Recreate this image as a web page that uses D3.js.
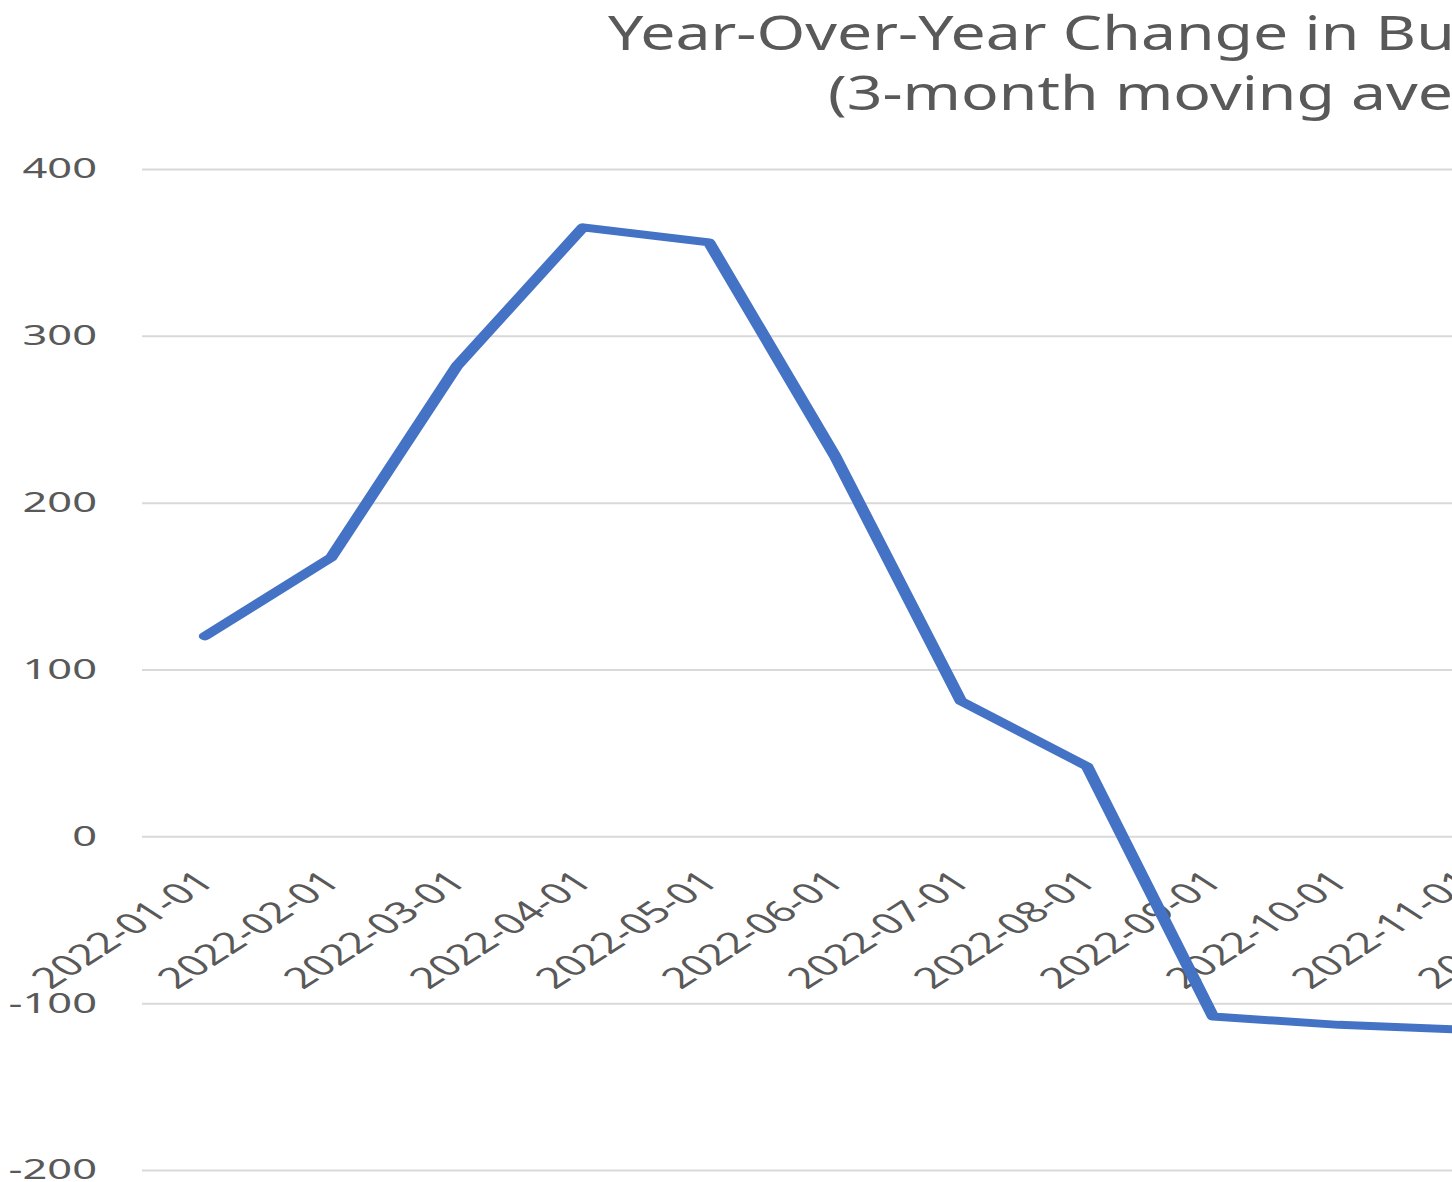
<!DOCTYPE html>
<html>
<head>
<meta charset="utf-8">
<script src="https://cdn.jsdelivr.net/npm/d3@7"></script>
<style>
  html, body { margin: 0; padding: 0; background: #fff; overflow: hidden; }
  text { font-family: "Noto Sans", sans-serif; fill: #595959; }
</style>
</head>
<body>
<div class="chart-container"></div>
<script>
// data
const months = [
  "2022-01-01", "2022-02-01", "2022-03-01", "2022-04-01",
  "2022-05-01", "2022-06-01", "2022-07-01", "2022-08-01",
  "2022-09-01", "2022-10-01", "2022-11-01", "2022-12-01",
];
const values = [120, 167, 282, 365, 356, 228, 81, 42, -108, -113, -116];
const yTicks = [-200, -100, 0, 100, 200, 300, 400];
const titleLines = ["Year-Over-Year Change in Building Permits", "(3-month moving average)"];

const width = 1452;
const height = 1182;
// the picture is stretched sideways, so draw in a squeezed space
const sx = 1.55;
const plotLeft = 142;
const step = 126;

const svg = d3
  .select(".chart-container")
  .append("svg")
  .attr("width", width)
  .attr("height", height);

const g = svg.append("g").attr("transform", `scale(${sx},1)`);

const x = d3
  .scalePoint()
  .domain(months)
  .range([plotLeft / sx, (plotLeft + months.length * step) / sx])
  .padding(0.5);

const y = d3.scaleLinear().domain([-200, 400]).range([1170, 169]);

// y axis + gridlines
const yAxis = g
  .append("g")
  .attr("transform", `translate(${plotLeft / sx},0)`)
  .call(
    d3.axisLeft(y)
      .tickValues(yTicks)
      .tickSize(-(months.length * step) / sx)
      .tickPadding(45 / sx)
      .tickFormat((d) => String(d))
  );
yAxis.select(".domain").remove();
yAxis.selectAll(".tick line").attr("stroke", "#d9d9d9").attr("stroke-width", 2);
yAxis
  .selectAll(".tick text")
  .attr("font-size", 28)
  .attr("fill", "#595959")
  .style("font-family", '"Noto Sans", sans-serif');

// x axis labels, sitting under the zero line
const xAxis = g
  .append("g")
  .attr("transform", `translate(0,${y(0)})`)
  .call(d3.axisBottom(x).tickSize(0));
xAxis.select(".domain").remove();
xAxis
  .selectAll(".tick text")
  .attr("font-size", 29)
  .attr("fill", "#595959")
  .style("font-family", '"Noto Sans", sans-serif')
  .attr("text-anchor", "end")
  .attr("x", 0)
  .attr("y", 0)
  .attr("dy", 0)
  .attr("transform", "translate(7,47) rotate(-45)");

// series line
const series = values.map((v, i) => ({ month: months[i], value: v }));
const line = d3
  .line()
  .x((d) => x(d.month))
  .y((d) => y(d.value));

g.append("path")
  .datum(series)
  .attr("fill", "none")
  .attr("stroke", "#4472c4")
  .attr("stroke-width", 8)
  .attr("stroke-linejoin", "round")
  .attr("stroke-linecap", "round")
  .attr("d", line);

// title
svg
  .append("text")
  .attr("transform", `translate(608,50) scale(${sx * 0.84},1)`)
  .attr("font-size", 48)
  .text(titleLines[0]);

svg
  .append("text")
  .attr("transform", `translate(828,110) scale(${sx * 0.84},1)`)
  .attr("font-size", 48)
  .text(titleLines[1]);
</script>
</body>
</html>
